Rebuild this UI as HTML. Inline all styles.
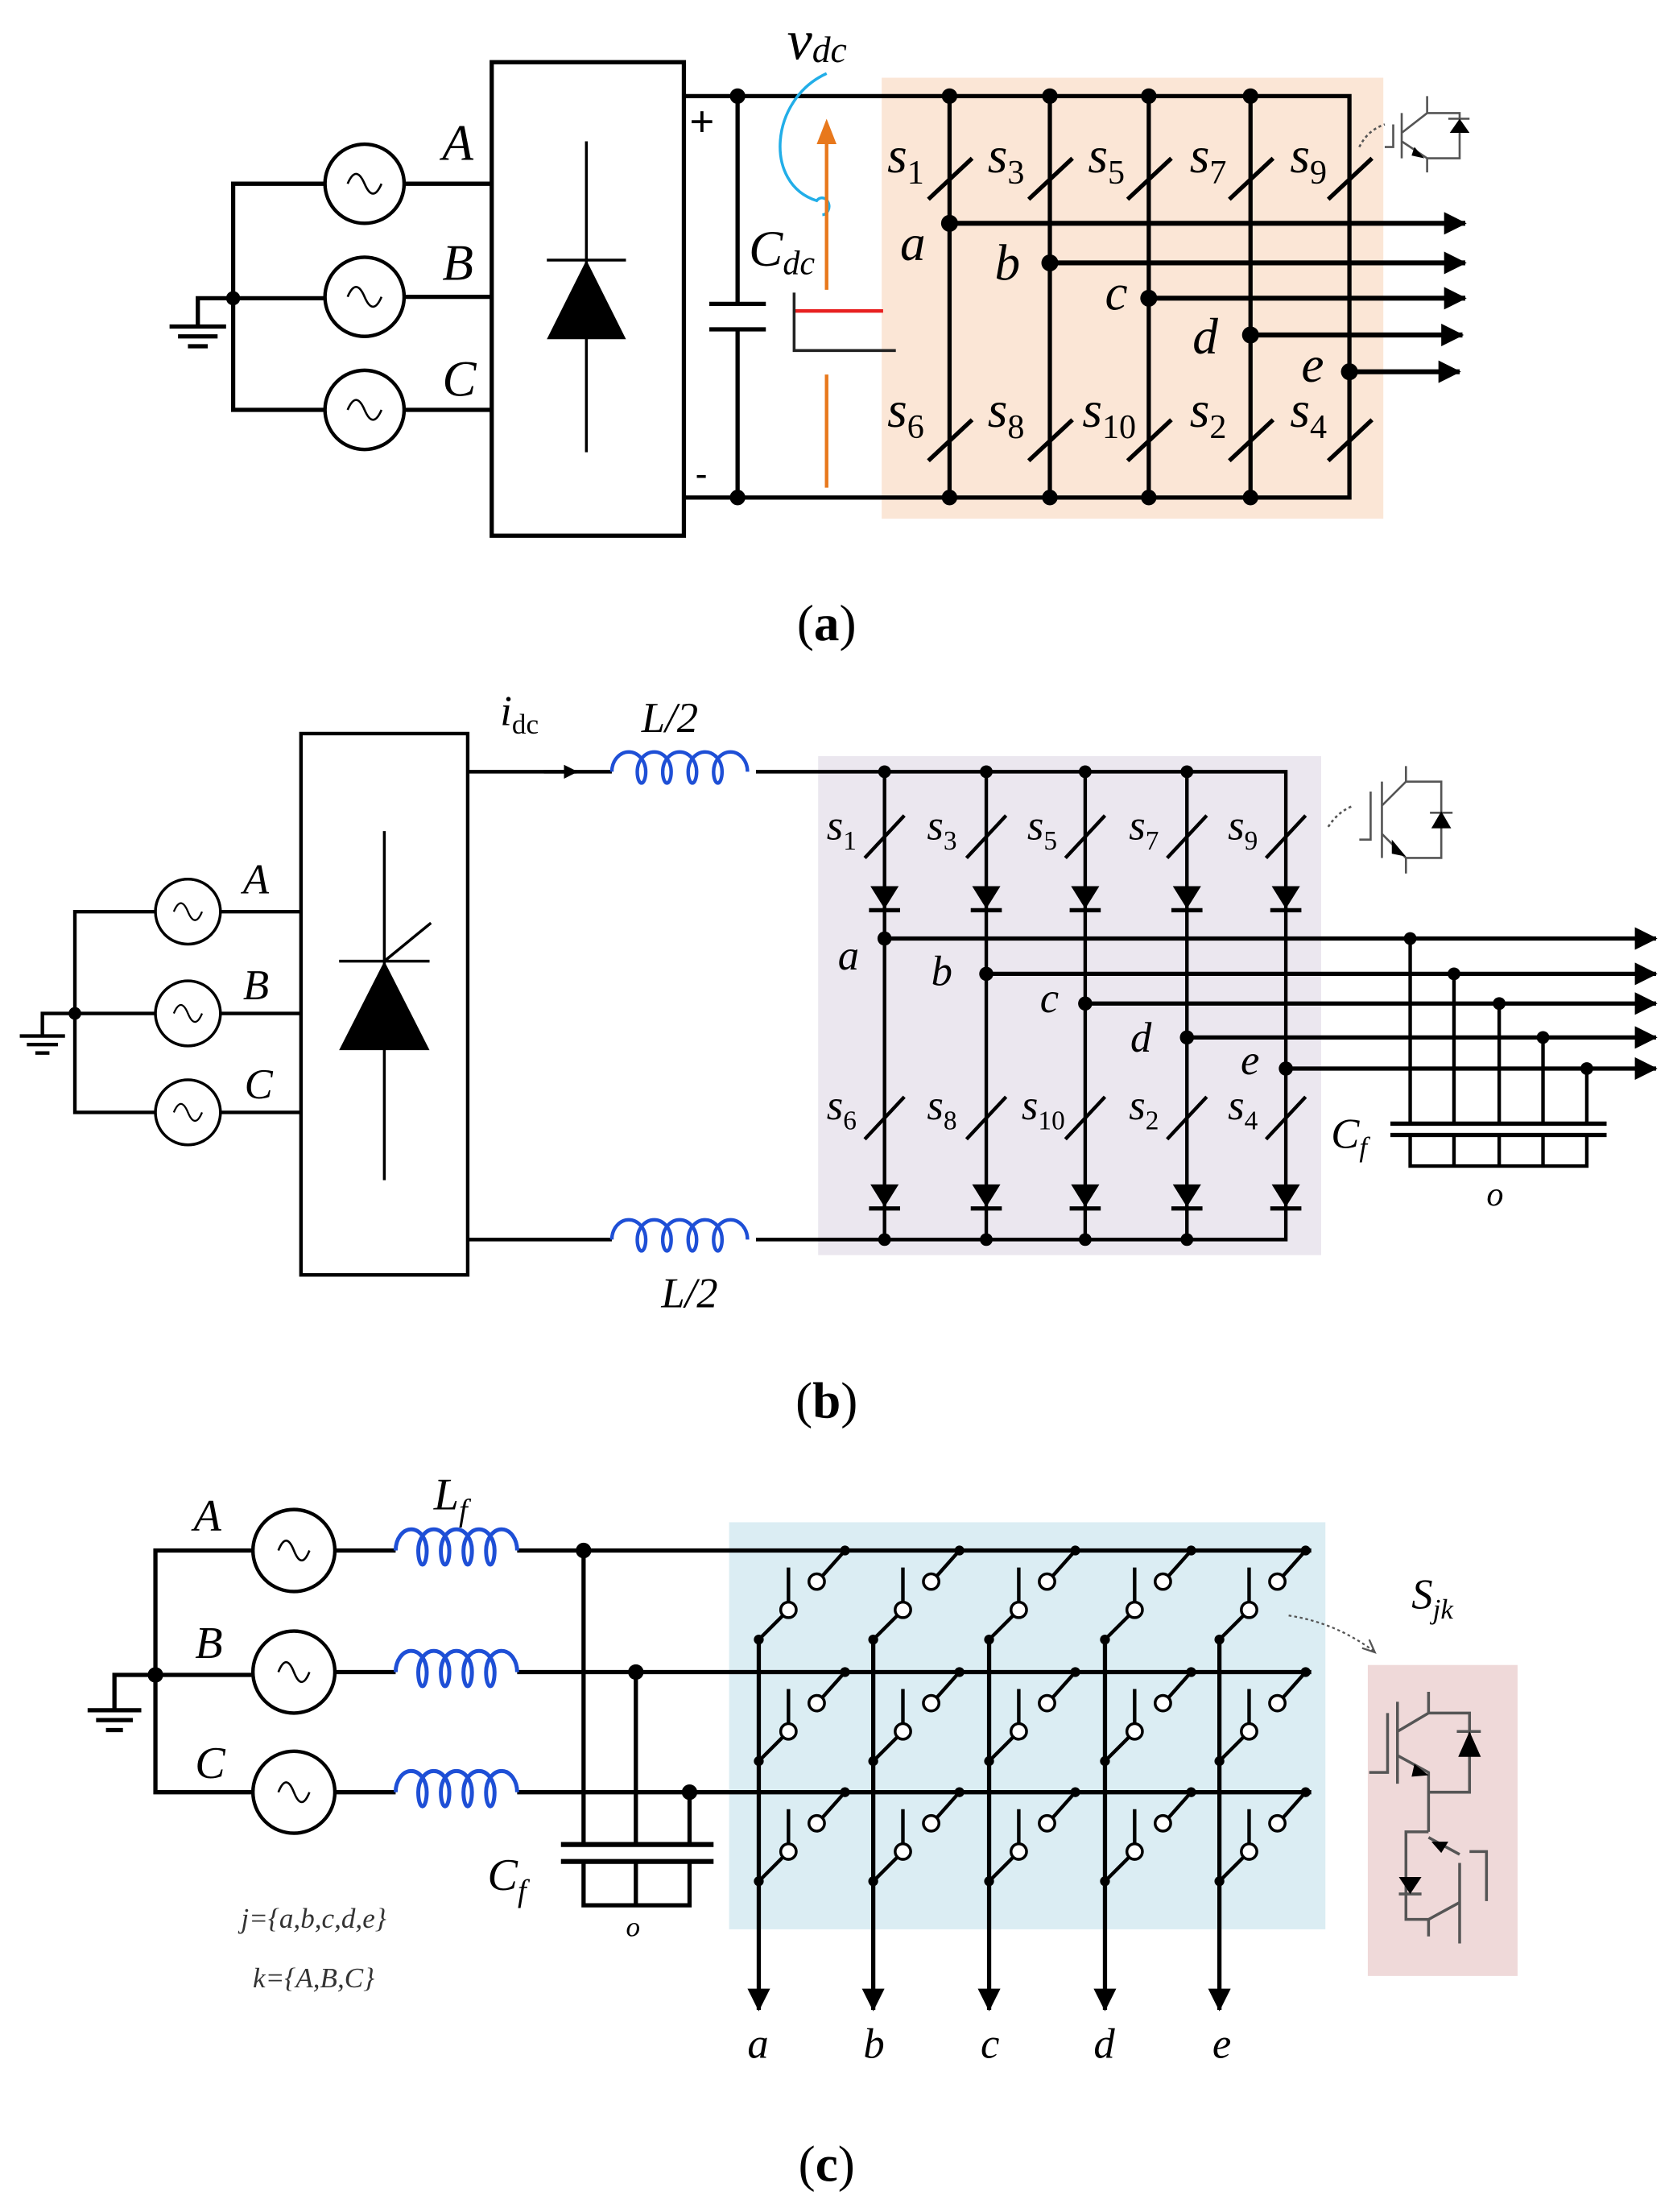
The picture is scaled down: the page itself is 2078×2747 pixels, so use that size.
<!DOCTYPE html>
<html><head><meta charset="utf-8"><style>html,body{margin:0;padding:0;background:#fff}svg{display:block}tspan.s{font-style:normal}</style></head>
<body>
<svg width="2078" height="2747" viewBox="0 0 1184 1565" preserveAspectRatio="none" xmlns="http://www.w3.org/2000/svg" font-family="Liberation Serif, serif">
<defs>
<marker id="ar" markerWidth="10" markerHeight="10" refX="9" refY="5" orient="auto" markerUnits="userSpaceOnUse" viewBox="0 0 10 10"><path d="M0,0 L10,5 L0,10 Z" fill="#000"/></marker>
<marker id="ar2" markerWidth="16" markerHeight="16" refX="15" refY="8" orient="auto" markerUnits="userSpaceOnUse" viewBox="0 0 16 16"><path d="M0,0 L16,8 L0,16 Z" fill="#000"/></marker>
</defs>
<rect width="1184" height="1565" fill="#fff"/>

<!-- ================= PANEL A ================= -->
<rect x="624" y="55" width="355" height="312" fill="#fbe6d6"/>
<g stroke="#000" stroke-width="3" fill="none">
 <path d="M120,231 H160"/><path d="M126,238 H154" /><path d="M133,245 H147"/>
 <path d="M140,231 V211 H230"/>
 <path d="M230,130 H165 V290 H230"/>
 <path d="M286,130 H348 M286,210 H348 M286,290 H348"/>
 <rect x="348" y="44" width="136" height="335"/>
 <path d="M484,68 H955 V352 H484"/>
 <path d="M522,68 V215 M502,215 H542 M502,233 H542 M522,233 V352"/>
 <path d="M672,68 V352 M743,68 V352 M813,68 V352 M885,68 V352"/>
</g>
<g stroke="#000" stroke-width="2.5" fill="#fff">
 <circle cx="258" cy="130" r="28"/><circle cx="258" cy="210" r="28"/><circle cx="258" cy="290" r="28"/>
</g>
<g stroke="#000" stroke-width="1.5" fill="none">
 <path d="M246,130 q6,-14 12,0 t12,0"/><path d="M246,210 q6,-14 12,0 t12,0"/><path d="M246,290 q6,-14 12,0 t12,0"/>
</g>
<circle cx="165" cy="211" r="5"/>
<g stroke="#000" stroke-width="2" fill="none"><path d="M415,100 V320 M387,184 H443"/></g>
<path d="M415,184 L443,240 L387,240 Z" fill="#000"/>
<g fill="#000"><circle cx="522" cy="68" r="5.5"/><circle cx="522" cy="352" r="5.5"/>
<circle cx="672" cy="68" r="5.5"/><circle cx="743" cy="68" r="5.5"/><circle cx="813" cy="68" r="5.5"/><circle cx="885" cy="68" r="5.5"/>
<circle cx="672" cy="352" r="5.5"/><circle cx="743" cy="352" r="5.5"/><circle cx="813" cy="352" r="5.5"/><circle cx="885" cy="352" r="5.5"/>
<circle cx="672" cy="158" r="6"/><circle cx="743" cy="186" r="6"/><circle cx="813" cy="211" r="6"/><circle cx="885" cy="237" r="6"/><circle cx="955" cy="263" r="6"/></g>
<g stroke="#000" stroke-width="3.5" marker-end="url(#ar2)">
 <path d="M672,158 H1037"/><path d="M743,186 H1037"/><path d="M813,211 H1037"/><path d="M885,237 H1035"/><path d="M955,263 H1033"/>
</g>
<g stroke="#000" stroke-width="3">
 <path d="M657,141 L688,112 M728,141 L759,112 M798,141 L829,112 M870,141 L901,112 M940,141 L971,112"/>
 <path d="M657,326 L688,297 M728,326 L759,297 M798,326 L829,297 M870,326 L901,297 M940,326 L971,297"/>
</g>
<g font-style="italic" font-size="36" fill="#000">
 <text x="628" y="122">s<tspan class="s" font-size="24" dy="8">1</tspan></text>
 <text x="699" y="122">s<tspan class="s" font-size="24" dy="8">3</tspan></text>
 <text x="770" y="122">s<tspan class="s" font-size="24" dy="8">5</tspan></text>
 <text x="842" y="122">s<tspan class="s" font-size="24" dy="8">7</tspan></text>
 <text x="913" y="122">s<tspan class="s" font-size="24" dy="8">9</tspan></text>
 <text x="628" y="302">s<tspan class="s" font-size="24" dy="8">6</tspan></text>
 <text x="699" y="302">s<tspan class="s" font-size="24" dy="8">8</tspan></text>
 <text x="766" y="302">s<tspan class="s" font-size="24" dy="8">10</tspan></text>
 <text x="842" y="302">s<tspan class="s" font-size="24" dy="8">2</tspan></text>
 <text x="913" y="302">s<tspan class="s" font-size="24" dy="8">4</tspan></text>
 <text x="637" y="184">a</text><text x="704" y="198">b</text><text x="782" y="219">c</text><text x="844" y="250">d</text><text x="921" y="270">e</text>
 <text x="313" y="113">A</text><text x="313" y="198">B</text><text x="313" y="280">C</text>
 <text x="530" y="188">C<tspan font-size="24" dy="6">dc</tspan></text>
 <text x="557" y="42" font-size="40">v<tspan font-size="26" dy="2">dc</tspan></text>
</g>
<text x="488" y="96" font-size="30" font-family="Liberation Sans, sans-serif">+</text>
<text x="492" y="344" font-size="26" font-family="Liberation Sans, sans-serif">-</text>
<path d="M585,52 C545,70 540,130 578,142 A5,6 0 1 1 582,152" stroke="#22aee8" stroke-width="2" fill="none"/>
<path d="M585,205 V98" stroke="#e8781c" stroke-width="2.5"/>
<path d="M578,102 L585,84 L592,102 Z" fill="#e8781c"/>
<path d="M585,265 V345" stroke="#e8781c" stroke-width="2.5"/>
<path d="M562,220 H625" stroke="#e82020" stroke-width="2.5"/>
<path d="M562,207 V248 H634" stroke="#222" stroke-width="2" fill="none"/>
<g stroke="#555" stroke-width="1.5" fill="none">
 <path d="M980,104 H986 V88 M992,80 V112 M992,94 L1010,80 V68 M1010,80 H1033 V112 H1010 M992,100 L1010,112 V122"/>
 <path d="M1025,84 H1040"/>
 <path d="M962,104 Q968,92 980,88" stroke-dasharray="2,2"/>
</g>
<path d="M1026,94 L1033,84 L1040,94 Z" fill="#000"/>
<path d="M1001,104 L1008,112 L999,110 Z" fill="#000"/>
<text x="585" y="453" text-anchor="middle" font-size="36">(<tspan font-weight="bold">a</tspan>)</text>

<!-- ================= PANEL B ================= -->
<rect x="579" y="535" width="356" height="353" fill="#ebe7ef"/>
<g stroke="#000" stroke-width="2.5" fill="none">
 <path d="M14,733 H46"/><path d="M19,739 H41"/><path d="M25,745 H35"/>
 <path d="M30,733 V717 H110"/>
 <path d="M110,645 H53 V787 H110"/>
 <path d="M156,645 H213 M156,717 H213 M156,787 H213"/>
 <rect x="213" y="519" width="118" height="383"/>
 <path d="M331,546 H433 M535,546 H910 V877 H535 M433,877 H331"/>
 <path d="M626,546 V877 M698,546 V877 M768,546 V877 M840,546 V877"/>
 <path d="M998,664 V795 M1029,689 V795 M1061,710 V795 M1092,734 V795 M1123,756 V795"/>
 <path d="M998,803 V825 H1123 V803 M1029,803 V825 M1061,803 V825 M1092,803 V825"/>
 <path d="M984,795 H1137 M984,803 H1137" stroke-width="3"/>
</g>
<path d="M385,546 H408" stroke="#000" stroke-width="2.5" marker-end="url(#ar)"/>
<g stroke="#000" stroke-width="2" fill="#fff">
 <circle cx="133" cy="645" r="23"/><circle cx="133" cy="717" r="23"/><circle cx="133" cy="787" r="23"/>
</g>
<g stroke="#000" stroke-width="1.3" fill="none">
 <path d="M123,645 q5,-12 10,0 t10,0"/><path d="M123,717 q5,-12 10,0 t10,0"/><path d="M123,787 q5,-12 10,0 t10,0"/>
</g>
<circle cx="53" cy="717" r="4.5"/>
<g stroke="#000" stroke-width="2" fill="none"><path d="M272,588 V835 M240,680 H304 M272,680 L305,653"/></g>
<path d="M272,680 L304,743 L240,743 Z" fill="#000"/>
<g stroke="#1e4fd6" stroke-width="2.5" fill="none">
 <path d="M433,546 a12,14 0 0 1 24,0 a3,8 0 0 1 -6,0 a12,14 0 0 1 24,0 a3,8 0 0 1 -6,0 a12,14 0 0 1 24,0 a3,8 0 0 1 -6,0 a12,14 0 0 1 24,0 a3,8 0 0 1 -6,0 a12,14 0 0 1 24,0"/>
 <path d="M433,877 a12,14 0 0 1 24,0 a3,8 0 0 1 -6,0 a12,14 0 0 1 24,0 a3,8 0 0 1 -6,0 a12,14 0 0 1 24,0 a3,8 0 0 1 -6,0 a12,14 0 0 1 24,0 a3,8 0 0 1 -6,0 a12,14 0 0 1 24,0"/>
</g>
<g fill="#000">
 <circle cx="626" cy="546" r="4.5"/><circle cx="698" cy="546" r="4.5"/><circle cx="768" cy="546" r="4.5"/><circle cx="840" cy="546" r="4.5"/>
 <circle cx="626" cy="877" r="4.5"/><circle cx="698" cy="877" r="4.5"/><circle cx="768" cy="877" r="4.5"/><circle cx="840" cy="877" r="4.5"/>
 <circle cx="626" cy="664" r="5"/><circle cx="698" cy="689" r="5"/><circle cx="768" cy="710" r="5"/><circle cx="840" cy="734" r="5"/><circle cx="910" cy="756" r="5"/>
 <circle cx="998" cy="664" r="4.5"/><circle cx="1029" cy="689" r="4.5"/><circle cx="1061" cy="710" r="4.5"/><circle cx="1092" cy="734" r="4.5"/><circle cx="1123" cy="756" r="4.5"/>
 <path d="M616,627 H636 L626,643 Z M688,627 H708 L698,643 Z M758,627 H778 L768,643 Z M830,627 H850 L840,643 Z M900,627 H920 L910,643 Z"/>
 <path d="M616,838 H636 L626,854 Z M688,838 H708 L698,854 Z M758,838 H778 L768,854 Z M830,838 H850 L840,854 Z M900,838 H920 L910,854 Z"/>
</g>
<g stroke="#000" stroke-width="3"><path d="M615,644 H637 M687,644 H709 M757,644 H779 M829,644 H851 M899,644 H921 M615,855 H637 M687,855 H709 M757,855 H779 M829,855 H851 M899,855 H921"/></g>
<g stroke="#000" stroke-width="3" marker-end="url(#ar2)">
 <path d="M626,664 H1172"/><path d="M698,689 H1172"/><path d="M768,710 H1172"/><path d="M840,734 H1172"/><path d="M910,756 H1172"/>
</g>
<g stroke="#000" stroke-width="2.5">
 <path d="M612,607 L640,577 M684,607 L712,577 M754,607 L782,577 M826,607 L854,577 M896,607 L924,577"/>
 <path d="M612,806 L640,776 M684,806 L712,776 M754,806 L782,776 M826,806 L854,776 M896,806 L924,776"/>
</g>
<g font-style="italic" font-size="30" fill="#000">
 <text x="585" y="594">s<tspan class="s" font-size="19" dy="7">1</tspan></text>
 <text x="656" y="594">s<tspan class="s" font-size="19" dy="7">3</tspan></text>
 <text x="727" y="594">s<tspan class="s" font-size="19" dy="7">5</tspan></text>
 <text x="799" y="594">s<tspan class="s" font-size="19" dy="7">7</tspan></text>
 <text x="869" y="594">s<tspan class="s" font-size="19" dy="7">9</tspan></text>
 <text x="585" y="792">s<tspan class="s" font-size="19" dy="7">6</tspan></text>
 <text x="656" y="792">s<tspan class="s" font-size="19" dy="7">8</tspan></text>
 <text x="723" y="792">s<tspan class="s" font-size="19" dy="7">10</tspan></text>
 <text x="799" y="792">s<tspan class="s" font-size="19" dy="7">2</tspan></text>
 <text x="869" y="792">s<tspan class="s" font-size="19" dy="7">4</tspan></text>
 <text x="593" y="686">a</text><text x="659" y="697">b</text><text x="736" y="716">c</text><text x="800" y="744">d</text><text x="878" y="760">e</text>
 <text x="172" y="632">A</text><text x="172" y="707">B</text><text x="173" y="777">C</text>
 <text x="942" y="812">C<tspan font-size="20" dy="6">f</tspan></text>
 <text x="1052" y="853" font-size="24">o</text>
 <text x="354" y="513">i<tspan class="s" font-size="20" dy="6">dc</tspan></text>
 <text x="454" y="518">L/2</text><text x="468" y="925">L/2</text>
</g>
<g stroke="#555" stroke-width="1.5" fill="none">
 <path d="M962,594 H970 V560 M978,553 V607 M978,570 L995,553 V542 M995,553 H1020 V607 H995 M978,590 L995,607 V618"/>
 <path d="M1012,575 H1028"/>
 <path d="M940,585 Q947,574 958,570" stroke-dasharray="2,2"/>
</g>
<path d="M1013,586 L1020,574 L1027,586 Z" fill="#000"/>
<path d="M985,594 L995,606 L985,604 Z" fill="#000"/>
<text x="585" y="1003" text-anchor="middle" font-size="36">(<tspan font-weight="bold">b</tspan>)</text>

<!-- ================= PANEL C ================= -->
<rect x="516" y="1077" width="422" height="288" fill="#dbedf3"/>
<rect x="968" y="1178" width="106" height="220" fill="#efd9d9"/>
<g stroke="#000" stroke-width="3" fill="none">
 <path d="M62,1210 H100"/><path d="M68,1217 H94"/><path d="M75,1224 H87"/>
 <path d="M81,1210 V1185 H178"/>
 <path d="M178,1097 H110 V1268 H178"/>
 <path d="M237,1097 H280 M237,1183 H280 M237,1268 H280"/>
 <path d="M366,1097 H928 M366,1183 H928 M366,1268 H928"/>
 <path d="M413,1097 V1305 M450,1183 V1305 M488,1268 V1305"/>
 <path d="M413,1317 V1348 H488 V1317 M450,1317 V1348"/>
 <path d="M397,1305 H505 M397,1317 H505" stroke-width="3.5"/>
</g>
<g stroke="#000" stroke-width="2.5" fill="#fff">
 <circle cx="208" cy="1097" r="29"/><circle cx="208" cy="1183" r="29"/><circle cx="208" cy="1268" r="29"/>
</g>
<g stroke="#000" stroke-width="1.5" fill="none">
 <path d="M197,1097 q5.5,-14 11,0 t11,0"/><path d="M197,1183 q5.5,-14 11,0 t11,0"/><path d="M197,1268 q5.5,-14 11,0 t11,0"/>
</g>
<circle cx="110" cy="1185" r="5.5"/>
<g stroke="#1e4fd6" stroke-width="2.8" fill="none">
 <path d="M280,1097 a11,15 0 0 1 22,0 a3,10 0 0 1 -6,0 a11,15 0 0 1 22,0 a3,10 0 0 1 -6,0 a11,15 0 0 1 22,0 a3,10 0 0 1 -6,0 a11,15 0 0 1 22,0 a3,10 0 0 1 -6,0 a11,15 0 0 1 22,0"/>
 <path d="M280,1183 a11,15 0 0 1 22,0 a3,10 0 0 1 -6,0 a11,15 0 0 1 22,0 a3,10 0 0 1 -6,0 a11,15 0 0 1 22,0 a3,10 0 0 1 -6,0 a11,15 0 0 1 22,0 a3,10 0 0 1 -6,0 a11,15 0 0 1 22,0"/>
 <path d="M280,1268 a11,15 0 0 1 22,0 a3,10 0 0 1 -6,0 a11,15 0 0 1 22,0 a3,10 0 0 1 -6,0 a11,15 0 0 1 22,0 a3,10 0 0 1 -6,0 a11,15 0 0 1 22,0 a3,10 0 0 1 -6,0 a11,15 0 0 1 22,0"/>
</g>
<g fill="#000"><circle cx="413" cy="1097" r="5.5"/><circle cx="450" cy="1183" r="5.5"/><circle cx="488" cy="1268" r="5.5"/></g>

<g stroke="#000" stroke-width="3" fill="none" marker-end="url(#ar2)">
 <path d="M537,1160 V1422"/><path d="M618,1160 V1422"/><path d="M700,1160 V1422"/><path d="M782,1160 V1422"/><path d="M863,1160 V1422"/>
</g>
<defs>
 <g id="sw">
  <path d="M61,0 L45,18 M21,12 V36 M17,46 L0,63" stroke="#000" stroke-width="2.5" fill="none"/>
  <circle cx="61" cy="0" r="3.5" fill="#000"/>
  <circle cx="0" cy="63" r="3.5" fill="#000"/>
  <circle cx="41" cy="22" r="5.5" fill="#fff" stroke="#000" stroke-width="2"/>
  <circle cx="21" cy="42" r="5.5" fill="#fff" stroke="#000" stroke-width="2"/>
 </g>
</defs>
<use href="#sw" x="537" y="1097"/><use href="#sw" x="618" y="1097"/><use href="#sw" x="700" y="1097"/><use href="#sw" x="782" y="1097"/><use href="#sw" x="863" y="1097"/>
<use href="#sw" x="537" y="1183"/><use href="#sw" x="618" y="1183"/><use href="#sw" x="700" y="1183"/><use href="#sw" x="782" y="1183"/><use href="#sw" x="863" y="1183"/>
<use href="#sw" x="537" y="1268"/><use href="#sw" x="618" y="1268"/><use href="#sw" x="700" y="1268"/><use href="#sw" x="782" y="1268"/><use href="#sw" x="863" y="1268"/>

<g font-style="italic" font-size="32" fill="#000">
 <text x="137" y="1083">A</text><text x="138" y="1173">B</text><text x="138" y="1258">C</text>
 <text x="307" y="1068">L<tspan font-size="22" dy="8">f</tspan></text>
 <text x="345" y="1337">C<tspan font-size="22" dy="8">f</tspan></text>
 <text x="443" y="1370" font-size="20">o</text>
 <text x="529" y="1456" font-size="30">a</text><text x="611" y="1456" font-size="30">b</text><text x="694" y="1456" font-size="30">c</text><text x="774" y="1456" font-size="30">d</text><text x="858" y="1456" font-size="30">e</text>
 <text x="999" y="1138" font-size="30">S<tspan font-size="20" dy="7">jk</tspan></text>
 <text x="222" y="1364" font-size="20" text-anchor="middle" fill="#333">j={a,b,c,d,e}</text>
 <text x="222" y="1406" font-size="20" text-anchor="middle" fill="#333">k={A,B,C}</text>
</g>
<path d="M912,1143 Q945,1148 972,1168" stroke="#555" stroke-width="1.3" fill="none" stroke-dasharray="2,2"/>
<path d="M964,1166 L973,1169 L969,1160" stroke="#555" stroke-width="1.3" fill="none"/>
<g stroke="#555" stroke-width="2" fill="none">
 <path d="M969,1254 H982 V1212 M989,1204 V1262 M989,1225 L1011,1212 V1197 M1011,1212 H1040 V1268 H1011 M989,1242 L1011,1254 V1268 V1296"/>
 <path d="M1011,1296 H995 V1358 H1011 V1370 M1011,1358 L1033,1346 M1033,1318 V1375 M1011,1300 L1033,1312 M1040,1310 H1052 V1345"/>
 <path d="M1031,1225 H1048 M990,1340 H1006"/>
</g>
<path d="M1040,1225 L1048,1243 L1032,1243 Z" fill="#000"/>
<path d="M990,1328 H1006 L998,1340 Z" fill="#000"/>
<path d="M1001,1248 L1011,1256 L999,1257 Z" fill="#000"/>
<path d="M1013,1303 L1025,1303 L1020,1311 Z" fill="#000"/>
<text x="585" y="1543" text-anchor="middle" font-size="36">(<tspan font-weight="bold">c</tspan>)</text>
</svg>
</body></html>
